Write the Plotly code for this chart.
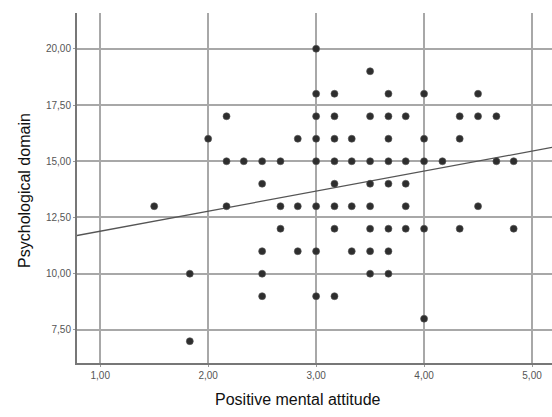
import plotly.graph_objects as go

# Data (x in steps of 1/6)
attitude = [1.5, 1.83, 1.83, 2.0, 2.17, 2.17, 2.17, 2.33,
            2.5, 2.5, 2.5, 2.5, 2.5, 2.67, 2.67, 2.67, 2.83, 2.83, 2.83,
            3.0, 3.0, 3.0, 3.0, 3.0, 3.0, 3.0, 3.0,
            3.17, 3.17, 3.17, 3.17, 3.17, 3.17, 3.17, 3.17,
            3.33, 3.33, 3.33, 3.33,
            3.5, 3.5, 3.5, 3.5, 3.5, 3.5, 3.5, 3.5,
            3.67, 3.67, 3.67, 3.67, 3.67, 3.67, 3.67, 3.67,
            3.83, 3.83, 3.83, 3.83, 3.83,
            4.0, 4.0, 4.0, 4.0, 4.0, 4.17, 4.33, 4.33, 4.33,
            4.5, 4.5, 4.5, 4.67, 4.67, 4.83, 4.83]
psych = [13, 10, 7, 16, 17, 15, 13, 15,
         15, 14, 11, 10, 9, 15, 13, 12, 16, 13, 11,
         20, 18, 17, 16, 15, 13, 11, 9,
         18, 17, 16, 15, 14, 13, 12, 9,
         16, 15, 13, 11,
         19, 17, 15, 14, 13, 12, 11, 10,
         18, 17, 16, 15, 14, 12, 11, 10,
         17, 15, 14, 13, 12,
         18, 16, 15, 12, 8, 15, 17, 16, 12,
         18, 17, 13, 17, 15, 15, 12]

fit_intercept = 11.0
fit_slope = 0.89

x_tickvals = [1, 2, 3, 4, 5]
x_ticktext = ["1,00", "2,00", "3,00", "4,00", "5,00"]
y_tickvals = [7.5, 10, 12.5, 15, 17.5, 20]
y_ticktext = ["7,50", "10,00", "12,50", "15,00", "17,50", "20,00"]

x_range = [0.785, 5.185]
y_range = [6.03, 21.59]

fig = go.Figure()
fig.add_trace(go.Scatter(
    x=[x_range[0], x_range[1]],
    y=[fit_intercept + fit_slope * x_range[0], fit_intercept + fit_slope * x_range[1]],
    mode="lines", line=dict(color="#555555", width=1.3), hoverinfo="skip"))
fig.add_trace(go.Scatter(
    x=attitude, y=psych, mode="markers",
    marker=dict(size=7, color="#2e2e2e", line=dict(width=0.6, color="#555555"))))

axis_common = dict(showgrid=True, gridcolor="#a8a8a8", gridwidth=1.5,
                   showline=True, linecolor="#777777", linewidth=2,
                   zeroline=False, ticks="outside", ticklen=2, tickcolor="#999999",
                   tickfont=dict(family="Liberation Sans, Arial", size=10, color="#555555"))

fig.update_xaxes(range=x_range, tickvals=x_tickvals, ticktext=x_ticktext, **axis_common)
fig.update_yaxes(range=y_range, tickvals=y_tickvals, ticktext=y_ticktext, **axis_common)

fig.update_layout(
    width=552, height=417,
    margin=dict(l=77, r=0, t=13, b=54),
    paper_bgcolor="white", plot_bgcolor="white",
    showlegend=False,
    annotations=[
        dict(text="Positive mental attitude", xref="paper", yref="paper",
             x=0.465, y=-0.103, showarrow=False, xanchor="center", yanchor="middle",
             font=dict(family="Liberation Sans, Arial", size=16, color="#111111")),
        dict(text="Psychological domain", xref="paper", yref="paper",
             x=-0.112, y=0.494, showarrow=False, xanchor="center", yanchor="middle", textangle=-90,
             font=dict(family="Liberation Sans, Arial", size=16, color="#111111")),
    ],
)

fig.write_html("out.html", config={"displayModeBar": False},
               post_script="document.body.style.margin='0';")
